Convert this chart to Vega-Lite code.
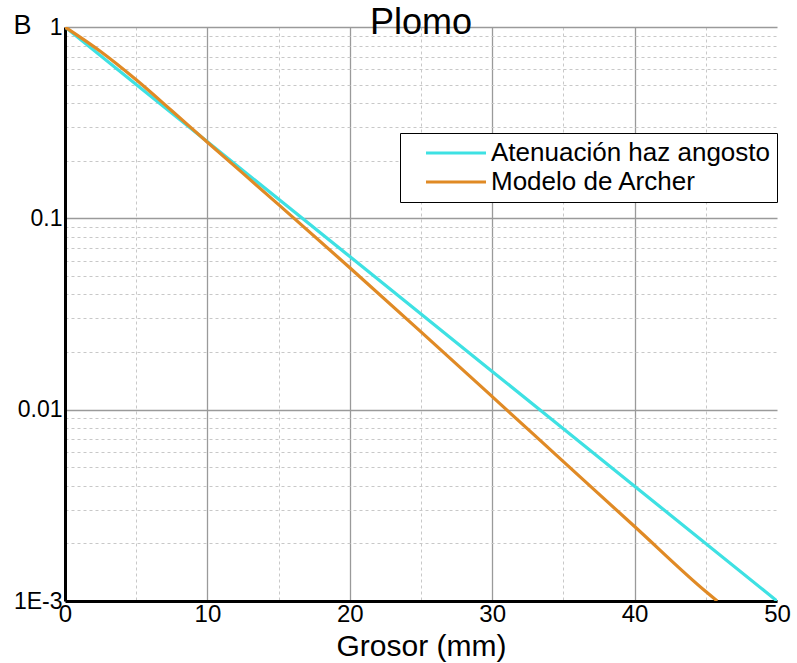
{
  "$schema": "https://vega.github.io/schema/vega-lite/v6.json",
  "width": 712,
  "height": 574,
  "autosize": {"type": "none"},
  "padding": {"left": 65, "top": 27, "right": 20, "bottom": 62},
  "background": "white",
  "title": {
    "text": "Plomo",
    "fontSize": 36,
    "font": "Liberation Sans",
    "fontWeight": "normal",
    "color": "black",
    "anchor": "middle",
    "frame": "group",
    "baseline": "alphabetic",
    "offset": -59
  },
  "data": {
    "values": [
      {"x": 0, "y": 1, "serie": "Atenuación haz angosto"},
      {"x": 10, "y": 0.2512, "serie": "Atenuación haz angosto"},
      {"x": 20, "y": 0.0631, "serie": "Atenuación haz angosto"},
      {"x": 30, "y": 0.01585, "serie": "Atenuación haz angosto"},
      {"x": 40, "y": 0.00398, "serie": "Atenuación haz angosto"},
      {"x": 50, "y": 0.001, "serie": "Atenuación haz angosto"},
      {"x": 0, "y": 1, "serie": "Modelo de Archer"},
      {"x": 2.5, "y": 0.745, "serie": "Modelo de Archer"},
      {"x": 5, "y": 0.53, "serie": "Modelo de Archer"},
      {"x": 7.5, "y": 0.365, "serie": "Modelo de Archer"},
      {"x": 10, "y": 0.25, "serie": "Modelo de Archer"},
      {"x": 15, "y": 0.118, "serie": "Modelo de Archer"},
      {"x": 20, "y": 0.0552, "serie": "Modelo de Archer"},
      {"x": 25, "y": 0.0255, "serie": "Modelo de Archer"},
      {"x": 30, "y": 0.0117, "serie": "Modelo de Archer"},
      {"x": 35, "y": 0.00535, "serie": "Modelo de Archer"},
      {"x": 40, "y": 0.00245, "serie": "Modelo de Archer"},
      {"x": 45, "y": 0.00112, "serie": "Modelo de Archer"},
      {"x": 45.8, "y": 0.001, "serie": "Modelo de Archer"}
    ]
  },
  "mark": {"type": "line", "strokeWidth": 3.2, "clip": true, "interpolate": "monotone"},
  "encoding": {
    "x": {
      "field": "x",
      "type": "quantitative",
      "scale": {"domain": [0, 50], "nice": false, "zero": false},
      "axis": {
        "title": "Grosor (mm)",
        "titleFont": "Liberation Sans",
        "titleFontSize": 30,
        "titleFontWeight": "normal",
        "titleColor": "black",
        "titleBaseline": "alphabetic",
        "titleY": 54,
        "values": [0, 5, 10, 15, 20, 25, 30, 35, 40, 45, 50],
        "labelExpr": "datum.value % 10 == 0 ? datum.label : ''",
        "labelFont": "Liberation Sans",
        "labelFontSize": 24,
        "labelColor": "black",
        "labelPadding": 1,
        "labelOverlap": false,
        "labelFlush": false,
        "labelBound": false,
        "ticks": false,
        "domainColor": "black",
        "domainWidth": 3,
        "grid": true,
        "gridColor": {"condition": {"test": "datum.value % 10 == 0", "value": "#9a9a9a"}, "value": "#c8c8c8"},
        "gridDash": {"condition": {"test": "datum.value % 10 == 0", "value": []}, "value": [3, 3]},
        "gridWidth": {"condition": {"test": "datum.value % 10 == 0", "value": 1.3}, "value": 1},
        "gridOpacity": {"condition": {"test": "datum.value == 50 || datum.value == 0", "value": 0}, "value": 1}
      }
    },
    "y": {
      "field": "y",
      "type": "quantitative",
      "scale": {"type": "log", "domain": [0.001, 1], "nice": false},
      "axis": {
        "title": "B",
        "titleAngle": 0,
        "titleFont": "Liberation Sans",
        "titleFontSize": 27,
        "titleFontWeight": "normal",
        "titleColor": "black",
        "titleAlign": "left",
        "titleBaseline": "alphabetic",
        "titleX": -52,
        "titleY": 6,
        "values": [0.001, 0.002, 0.003, 0.004, 0.005, 0.006, 0.007, 0.008, 0.009, 0.01, 0.02, 0.03, 0.04, 0.05, 0.06, 0.07, 0.08, 0.09, 0.1, 0.2, 0.3, 0.4, 0.5, 0.6, 0.7, 0.8, 0.9, 1],
        "labelExpr": "datum.value == 1 ? '1' : (abs(datum.value - 0.1) < 1e-9 ? '0.1' : (abs(datum.value - 0.01) < 1e-9 ? '0.01' : (abs(datum.value - 0.001) < 1e-9 ? '1E-3' : '')))",
        "labelFont": "Liberation Sans",
        "labelFontSize": 23,
        "labelColor": "black",
        "labelPadding": 3,
        "labelOverlap": false,
        "labelFlush": false,
        "labelBound": false,
        "ticks": false,
        "domainColor": "black",
        "domainWidth": 3,
        "grid": true,
        "gridColor": {"condition": {"test": "abs(log(datum.value)/LN10 - round(log(datum.value)/LN10)) < 1e-6", "value": "#9a9a9a"}, "value": "#c8c8c8"},
        "gridDash": {"condition": {"test": "abs(log(datum.value)/LN10 - round(log(datum.value)/LN10)) < 1e-6", "value": []}, "value": [3, 3]},
        "gridWidth": {"condition": {"test": "abs(log(datum.value)/LN10 - round(log(datum.value)/LN10)) < 1e-6", "value": 1.3}, "value": 1}
      }
    },
    "color": {
      "field": "serie",
      "type": "nominal",
      "scale": {"domain": ["Atenuación haz angosto", "Modelo de Archer"], "range": ["#3EE1E3", "#E08A25"]},
      "legend": {
        "title": null,
        "orient": "none",
        "legendX": 335,
        "legendY": 106,
        "direction": "vertical",
        "strokeColor": "black",
        "fillColor": "white",
        "padding": 7,
        "symbolType": "M-3,0H3",
        "symbolSize": 400,
        "symbolStrokeWidth": 3.2,
        "symbolOffset": 36,
        "labelFont": "Liberation Sans",
        "labelFontSize": 26,
        "labelColor": "black",
        "labelLimit": 400,
        "labelOffset": 22,
        "rowPadding": 3
      }
    }
  },
  "config": {
    "view": {"stroke": null}
  }
}
